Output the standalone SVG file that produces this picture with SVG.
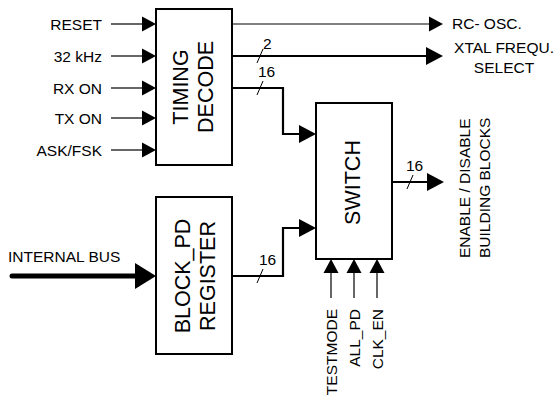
<svg xmlns="http://www.w3.org/2000/svg" width="558" height="399" viewBox="0 0 558 399">
<style>
text{font-family:"Liberation Sans",Arial,sans-serif;fill:#000}
.lbl{font-size:15.5px}
.big{font-size:21.5px}
.box{fill:#fff;stroke:#000;stroke-width:2}
.w{fill:none;stroke:#000;stroke-width:1.2}
.bus{fill:none;stroke:#000;stroke-width:2.2}
.sl{fill:none;stroke:#000;stroke-width:1}
</style>
<defs>
<marker id="aS" markerUnits="userSpaceOnUse" markerWidth="15" markerHeight="16" refX="0" refY="7.5" orient="auto" overflow="visible"><path d="M0,0 L14,7.5 L0,15 z" fill="#000"/></marker>
<marker id="aB" markerUnits="userSpaceOnUse" markerWidth="18" markerHeight="19" refX="0" refY="9" orient="auto" overflow="visible"><path d="M0,0 L17,9 L0,18 z" fill="#000"/></marker>
<marker id="aX" markerUnits="userSpaceOnUse" markerWidth="22" markerHeight="27" refX="0" refY="13" orient="auto" overflow="visible"><path d="M0,0 L21,13 L0,26 z" fill="#000"/></marker>
</defs>
<g id="connectors">
<path class="w" d="M111,24 H142" marker-end="url(#aS)"/>
<path class="w" d="M111,56 H142" marker-end="url(#aS)"/>
<path class="w" d="M111,88 H142" marker-end="url(#aS)"/>
<path class="w" d="M111,118 H142" marker-end="url(#aS)"/>
<path class="w" d="M111,150 H142" marker-end="url(#aS)"/>
<path class="w" d="M232,24 H429" marker-end="url(#aS)"/>
<path class="bus" d="M232,56 H426" marker-end="url(#aB)"/>
<path class="bus" d="M232,88 H283 V134 H299" marker-end="url(#aB)"/>
<path class="bus" d="M232,276 H283 V228 H299" marker-end="url(#aB)"/>
<path class="bus" d="M392,182 H427" marker-end="url(#aB)"/>
<path class="w" d="M331,298 V273" marker-end="url(#aS)"/>
<path class="w" d="M354,298 V273" marker-end="url(#aS)"/>
<path class="w" d="M377,298 V273" marker-end="url(#aS)"/>
<path d="M12,276 H135" fill="none" stroke="#000" stroke-width="5" stroke-linecap="round" marker-end="url(#aX)"/>
<path class="sl" d="M257,63 L263,49"/>
<path class="sl" d="M257,95 L263,81"/>
<path class="sl" d="M257,283 L263,269"/>
<path class="sl" d="M407,189 L413,175"/>
<text class="lbl" x="263" y="49">2</text>
<text class="lbl" x="258" y="77">16</text>
<text class="lbl" x="259" y="265">16</text>
<text class="lbl" x="406" y="171">16</text>
</g>
<g id="inputs">
<text class="lbl" x="102" y="29.5" text-anchor="end">RESET</text>
<text class="lbl" x="102" y="61.5" text-anchor="end">32 kHz</text>
<text class="lbl" x="102" y="93.5" text-anchor="end">RX ON</text>
<text class="lbl" x="102" y="123.5" text-anchor="end">TX ON</text>
<text class="lbl" x="102" y="155.5" text-anchor="end">ASK/FSK</text>
<text class="lbl" x="8" y="262">INTERNAL BUS</text>
</g>
<g id="outputs">
<text class="lbl" x="452" y="29">RC- OSC.</text>
<text class="lbl" x="504" y="53" text-anchor="middle">XTAL FREQU.</text>
<text class="lbl" x="504" y="73" text-anchor="middle">SELECT</text>
<text class="lbl" transform="translate(470,258) rotate(-90)">ENABLE / DISABLE</text>
<text class="lbl" transform="translate(490,258) rotate(-90)">BUILDING BLOCKS</text>
</g>
<g id="switch-controls">
<text class="lbl" text-anchor="end" transform="translate(336.5,309) rotate(-90)">TESTMODE</text>
<text class="lbl" text-anchor="end" transform="translate(359.5,309) rotate(-90)">ALL_PD</text>
<text class="lbl" text-anchor="end" transform="translate(382.5,309) rotate(-90)">CLK_EN</text>
</g>
<g id="timing-decode">
<rect class="box" x="156" y="9" width="76" height="156"/>
<text class="big" text-anchor="middle" transform="translate(188,87) rotate(-90)">TIMING</text>
<text class="big" text-anchor="middle" transform="translate(213,87) rotate(-90)">DECODE</text>
</g>
<g id="block-pd-register">
<rect class="box" x="156" y="197" width="76" height="157"/>
<text class="big" text-anchor="middle" transform="translate(190,276) rotate(-90)">BLOCK_PD</text>
<text class="big" text-anchor="middle" transform="translate(215,276) rotate(-90)">REGISTER</text>
</g>
<g id="switch">
<rect class="box" x="316" y="103" width="76" height="156"/>
<text class="big" text-anchor="middle" transform="translate(360,182.5) rotate(-90)">SWITCH</text>
</g>
</svg>
